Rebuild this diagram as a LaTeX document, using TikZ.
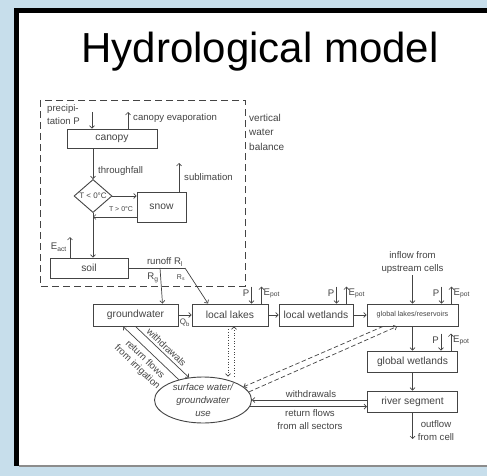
\documentclass[tikz,border=0pt]{standalone}
\usepackage{fontspec}
\setmainfont{Liberation Sans}
\usetikzlibrary{arrows.meta,shapes.geometric}

\definecolor{slideblue}{RGB}{199,222,235}
\definecolor{ink}{RGB}{68,68,68}

\tikzset{
  box/.style={draw=ink, line width=0.9pt, inner sep=0pt, text=ink,
    font=\fontsize{10.3}{12}\selectfont},
  lbl/.style={text=ink, inner sep=1pt, font=\fontsize{9.6}{13}\selectfont},
  tinylbl/.style={text=ink, inner sep=1pt, font=\fontsize{7}{8}\selectfont},
  flow/.style={draw=ink, line width=0.7pt, ->},
}

\begin{document}
\begin{tikzpicture}[x=1pt, y=-1pt, >={Straight Barb[length=2.5pt,width=5pt]}]
    % slide background and white panel
    \useasboundingbox (0,0) rectangle (487,476);
    \fill[slideblue] (0,0) rectangle (487,476);
    \fill[white] (19,13) rectangle (487,466);
    \fill[black] (14,8) rectangle (487,13);
    \fill[black] (14,8) rectangle (19,466);
    \draw[black!45, line width=1.2pt] (19,466) -- (487,466);

    \node[anchor=base, font=\fontsize{42}{48}\selectfont] (title) at (260,63) {Hydrological model};

    % vertical water balance
    \draw[ink, line width=0.8pt, dash pattern=on 7pt off 4pt] (40,100) rectangle (245,286);
    \node[lbl, anchor=west, align=left, font=\fontsize{10}{14.5}\selectfont] (vwb) at (248,132) {vertical\\water\\balance};

    \node[box, minimum width=90pt, minimum height=19pt] (canopy) at (112,138.5) {canopy};
    \node[box, diamond, minimum width=38pt, minimum height=32pt,
      font=\fontsize{8}{9}\selectfont] (temp) at (93,196) {T < 0°C};
    \node[box, minimum width=49pt, minimum height=30pt] (snow) at (161.5,207) {snow};
    \node[box, minimum width=78pt, minimum height=20pt] (soil) at (89,268) {soil};

    \coordinate (pin)   at (92,112);
    \coordinate (cevap) at (128,112);
    \coordinate (melt)  at (93,217);
    \coordinate (subl)  at (179,163);
    \coordinate (eact)  at (70,237);
    \coordinate (rg)    at (160,268);
    \coordinate (rl)    at (185,268);

    \node[lbl, anchor=west, align=left] (precip) at (46,114.5) {precipi-\\tation P};
    \draw[flow] (pin) -- (pin |- canopy.north);
    \draw[flow] (cevap |- canopy.north) -- (cevap);
    \node[lbl, anchor=west] (cevaplbl) at (132,118) {canopy evaporation};

    \draw[flow] (canopy.south -| temp.north) -- (temp.north);
    \node[lbl, anchor=west] (tflbl) at (97,171) {throughfall};
    \draw[flow] (temp.east) -- (temp.east -| snow.west);
    \draw[flow] (snow.west |- melt) -- (melt);
    \node[tinylbl] (meltlbl) at (121,209) {T > 0°C};
    \draw[flow] (temp.south) -- (temp.south |- soil.north);
    \draw[flow] (subl |- snow.north) -- (subl);
    \node[lbl, anchor=west] (subllbl) at (183,177) {sublimation};
    \draw[flow] (eact |- soil.north) -- (eact);
    \node[lbl, anchor=east] (eactlbl) at (68,247) {E\textsubscript{act}};

    % horizontal transport
    \node[box, minimum width=85pt, minimum height=22pt] (gw) at (135.5,315) {groundwater};
    \node[box, minimum width=76pt, minimum height=22pt] (lakes) at (230,315) {local lakes};
    \node[box, minimum width=74pt, minimum height=22pt] (wetlands) at (316,315) {local wetlands};
    \node[box, minimum width=91pt, minimum height=22pt,
      font=\fontsize{7.2}{8}\selectfont] (glakes) at (412.5,315) {global lakes/reservoirs};
    \node[box, minimum width=90pt, minimum height=21pt] (gwet) at (412.5,361.5) {global wetlands};
    \node[box, minimum width=90pt, minimum height=21pt] (river) at (412.5,401.5) {river segment};
    \node[box, ellipse, minimum width=97pt, minimum height=46pt, inner sep=-2pt, align=center,
      font=\itshape\fontsize{9.6}{13}\selectfont] (use) at (203,400) {surface water/\\groundwater\\use};

    \draw[ink, line width=0.7pt] (soil.east) -- (rl);
    \node[lbl] (rllbl) at (165,262) {runoff R\textsubscript{l}};
    \draw[flow] (rg) -- ([xshift=27pt]gw.north);
    \draw[flow] (rl) -- ([xshift=-22pt]lakes.north);
    \node[lbl] (rglbl) at (153,278) {R\textsubscript{g}};
    \node[tinylbl] (rslbl) at (181,278) {R\textsubscript{s}};

    \draw[flow] (gw) -- (lakes);
    \node[tinylbl, font=\fontsize{8}{9}\selectfont] (qblbl) at (185,323) {Q\textsubscript{b}};
    \draw[flow] (lakes) -- (wetlands);
    \draw[flow] (wetlands) -- (glakes);

    \foreach \b in {lakes,wetlands,glakes,gwet}{
      \draw[flow] ([xshift=-17pt,yshift=17pt]\b.north east) -- ([xshift=-17pt]\b.north east);
      \draw[flow] ([xshift=-7pt]\b.north east) -- ([xshift=-7pt,yshift=17pt]\b.north east);
      \node[lbl, anchor=east] (P-\b) at ([xshift=-18pt,yshift=10pt]\b.north east) {P};
      \node[lbl, anchor=west] (E-\b) at ([xshift=-6pt,yshift=10pt]\b.north east) {E\textsubscript{pot}};
    }

    \node[lbl, align=center] (inflow) at (412.5,263) {inflow from\\upstream cells};
    \draw[flow] (inflow.south) -- (glakes.north);
    \draw[flow] (glakes) -- (gwet);
    \draw[flow] (gwet) -- (river);
    \coordinate (out) at (412.5,439);
    \draw[flow] (river) -- (out);
    \node[lbl, align=center] (outlbl) at (436,431) {outflow\\from cell};

    % water use
    \draw[flow] (river.west |- use.east) -- (use.east);
    \draw[flow] (use.-8) -- (use.-8 -| river.west);
    \node[lbl] (wdlbl) at (311,394) {withdrawals};
    \node[lbl, align=center] (rflbl) at (310,419.5) {return flows\\from all sectors};

    \draw[flow, dash pattern=on 4.5pt off 2.5pt] ([xshift=-29.5pt]glakes.south) -- (use.18);
    \draw[flow, dash pattern=on 4.5pt off 2.5pt] (use.10) -- ([xshift=-15.5pt]glakes.south);

    \draw[flow, dotted] ([xshift=-2pt]lakes.south) -- ([xshift=-2pt]lakes.south |- use.north);
    \draw[flow, dotted] ([xshift=4pt]lakes.south |- use.north) -- ([xshift=4pt]lakes.south);

    \draw[flow] (gw.south) -- (use.122)
      node[midway, sloped, above=1.5pt, lbl] (gwwd) {withdrawals};
    \draw[flow, <-] ([xshift=-12.5pt]gw.south) -- (use.140)
      node[midway, sloped, below=3pt, lbl, align=center, font=\fontsize{9.6}{11}\selectfont] (gwrf) {return flows\\from irrigation};
\end{tikzpicture}
\end{document}
